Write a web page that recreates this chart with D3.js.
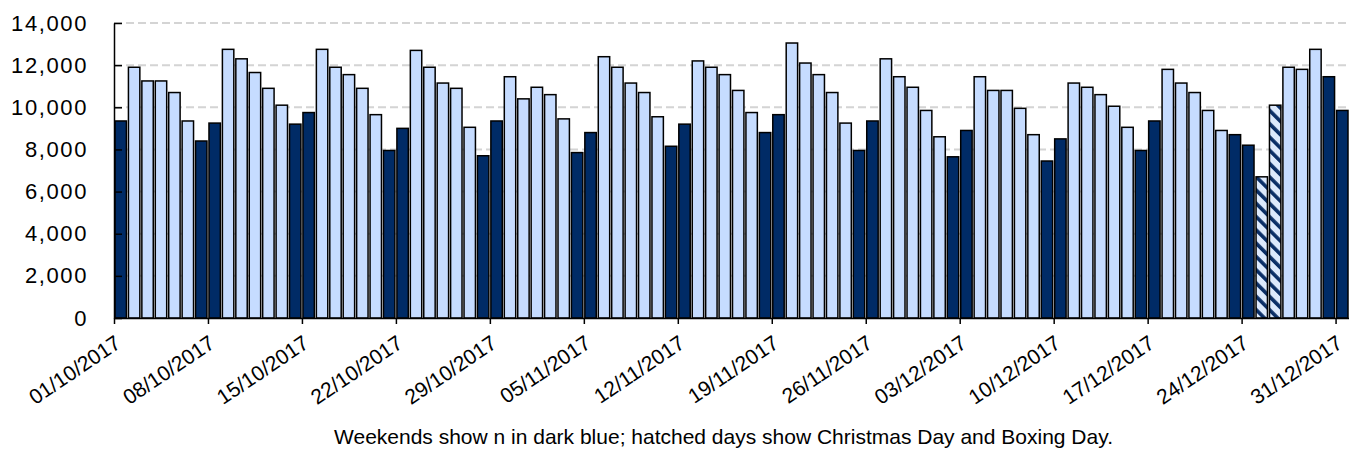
<!DOCTYPE html>
<html>
<head>
<meta charset="utf-8">
<script src="https://cdn.jsdelivr.net/npm/d3@7"></script>
<style>
  body { margin: 0; background: #fff; }
  text { font-family: "Liberation Sans", Arial, sans-serif; fill: #000; }
</style>
</head>
<body>
<div id="chart"></div>
<script>
// daily values
const octValues = [9350, 11900, 11250, 11250, 10700, 9350, 8400, 9250, 12750, 12300,
    11650, 10900, 10100, 9200, 9750, 12750, 11900, 11550, 10900, 9650,
    7950, 9000, 12700, 11900, 11150, 10900, 9050, 7700, 9350, 11450, 10400];
const novValues = [10950, 10600, 9450, 7850, 8800, 12400, 11900, 11150, 10700, 9550,
    8150, 9200, 12200, 11900, 11550, 10800, 9750, 8800, 9650, 13050,
    12100, 11550, 10700, 9250, 7950, 9350, 12300, 11450, 10950, 9850];
const decValues = [8600, 7650, 8900, 11450, 10800, 10800, 9950, 8700, 7450, 8500,
    11150, 10950, 10600, 10050, 9050, 7950, 9350, 11800, 11150, 10700,
    9850, 8900, 8700, 8200, 6700, 10100, 11900, 11800, 12750, 11450, 9850];
const holidays = ["25/12/2017", "26/12/2017"];
const tickLabels = ["01/10/2017", "08/10/2017", "15/10/2017", "22/10/2017", "29/10/2017",
    "05/11/2017", "12/11/2017", "19/11/2017", "26/11/2017", "03/12/2017",
    "10/12/2017", "17/12/2017", "24/12/2017", "31/12/2017"];
const yTicks = [0, 2000, 4000, 6000, 8000, 10000, 12000, 14000];
const caption = "Weekends show n in dark blue; hatched days show Christmas Day and Boxing Day.";

const fmtDate = d3.timeFormat("%d/%m/%Y");
const dates = d3.timeDay.range(new Date(2017, 9, 1), new Date(2018, 0, 1));
const values = octValues.concat(novValues, decValues);
const data = dates.map((d, i) => ({
    label: fmtDate(d),
    value: values[i],
    weekend: d.getDay() === 0 || d.getDay() === 6,
    holiday: holidays.includes(fmtDate(d))
}));

const width = 1349, height = 450;
const plot = { left: 114, right: 1349, top: 23, bottom: 318 };

const svg = d3.select("#chart").append("svg")
    .attr("width", width)
    .attr("height", height);

// hatch for the bank holidays
const pat = svg.append("defs").append("pattern")
    .attr("id", "hatch")
    .attr("patternUnits", "userSpaceOnUse")
    .attr("width", 9.4).attr("height", 9.4)
    .attr("patternTransform", "rotate(-45)");
pat.append("rect").attr("width", 9.4).attr("height", 9.4).attr("fill", "#dce9fc");
pat.append("rect").attr("width", 3.6).attr("height", 9.4).attr("fill", "#0a2e66");

const x = d3.scaleBand()
    .domain(d3.range(data.length))
    .range([plot.left, plot.right])
    .paddingInner(0.15)
    .paddingOuter(0.075);

// tick positions sit on the category boundaries
const xTick = d3.scaleLinear().domain([0, data.length]).range([plot.left, plot.right]);

const y = d3.scaleLinear().domain([0, 14000]).range([plot.bottom, plot.top]);

// gridlines
svg.append("g")
    .selectAll("line")
    .data(yTicks.filter(v => v > 0))
    .join("line")
    .attr("x1", plot.left).attr("x2", plot.right)
    .attr("y1", d => y(d)).attr("y2", d => y(d))
    .attr("stroke", "#d4d4d4")
    .attr("stroke-width", 2)
    .attr("stroke-dasharray", "8,4");

// bars
svg.append("g")
    .selectAll("rect")
    .data(data)
    .join("rect")
    .attr("x", (d, i) => x(i))
    .attr("width", x.bandwidth())
    .attr("y", d => y(d.value))
    .attr("height", d => y(0) - y(d.value))
    .attr("fill", d => d.holiday ? "url(#hatch)" : (d.weekend ? "#002b66" : "#c6dcff"))
    .attr("stroke", "#000")
    .attr("stroke-width", 1.5);

// y axis
const yAxis = svg.append("g")
    .attr("transform", `translate(${plot.left},0)`)
    .call(d3.axisLeft(y)
        .tickValues(yTicks)
        .tickFormat(d3.format(","))
        .tickSizeInner(-8)
        .tickSizeOuter(0)
        .tickPadding(26));
yAxis.select(".domain").attr("stroke", "#000").attr("stroke-width", 1.5);
yAxis.selectAll(".tick line").attr("stroke", "#000").attr("stroke-width", 1.5);
yAxis.selectAll("text")
    .attr("font-size", 22)
    .attr("letter-spacing", 1.6)
    .attr("fill", "#000");

// x axis
const tickIdx = tickLabels.map(t => data.findIndex(d => d.label === t));
const xAxis = svg.append("g")
    .attr("transform", `translate(0,${plot.bottom})`)
    .call(d3.axisBottom(xTick)
        .tickValues(tickIdx)
        .tickFormat(i => data[i].label)
        .tickSizeInner(6)
        .tickSizeOuter(0)
        .tickPadding(4));
xAxis.select(".domain").attr("stroke", "#000").attr("stroke-width", 1.5);
xAxis.selectAll(".tick line").attr("stroke", "#000").attr("stroke-width", 1.5);
xAxis.selectAll("text")
    .attr("font-size", 21)
    .attr("text-anchor", "end")
    .attr("dy", "0.7em")
    .attr("transform", "translate(-6,8) rotate(-34)")
    .attr("fill", "#000");

// caption
svg.append("text")
    .attr("x", (plot.left + plot.right) / 2 - 8)
    .attr("y", 444)
    .attr("text-anchor", "middle")
    .attr("font-size", 21)
    .text(caption);
</script>
</body>
</html>
